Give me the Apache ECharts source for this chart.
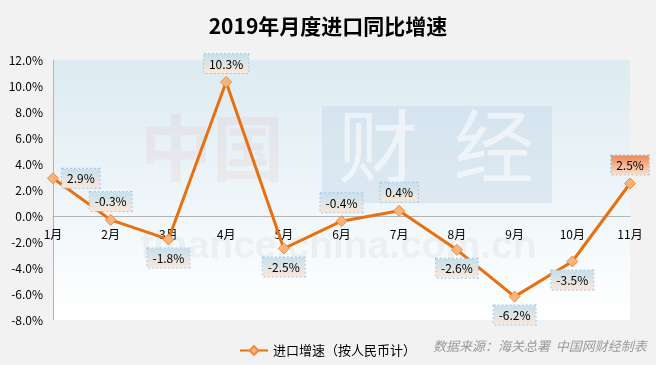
<!DOCTYPE html>
<html><head><meta charset="utf-8">
<script src="https://cdn.jsdelivr.net/npm/echarts@6/dist/echarts.min.js"></script>
<style>html,body{margin:0;padding:0;background:#f2f2f2;}#c{width:656px;height:365px;}</style>
</head><body><div id="c"></div>
<script>
var categories = ['1月','2月','3月','4月','5月','6月','7月','8月','9月','10月','11月'];
var values = [2.9, -0.3, -1.8, 10.3, -2.5, -0.4, 0.4, -2.6, -6.2, -3.5, 2.5];
var labelPos = ['right','top','bottom','top','bottom','top','top','bottom','bottom','bottom','top'];
var yTicks = {min: -8, max: 12, interval: 2};
var seriesName = '进口增速（按人民币计）';
var titleText = '2019年月度进口同比增速';
var sourceText = '数据来源：海关总署  中国网财经制表';

var FONT = '"Noto Sans CJK SC", "Noto Sans", sans-serif';
function grad(c1, c2){ return {type:'linear',x:0,y:0,x2:0,y2:1,colorStops:[{offset:0,color:c1},{offset:1,color:c2}]}; }
var normalBg = grad('#c2e1ee', '#fde7d8');
var lastBg = grad('#ea8550', '#fde3d0');

var data = values.map(function(v,i){
  return {value: v, label: {position: labelPos[i], backgroundColor: i === values.length-1 ? lastBg : normalBg}};
});

var chart = echarts.init(document.getElementById('c'));
chart.setOption({
  backgroundColor: '#f2f2f2',
  animation: false,
  title: {text: titleText, left: 'center', top: 11, textStyle: {fontFamily: FONT, fontSize: 21, fontWeight: 'bold', color: '#000'}},
  grid: {left: 53, right: 26, top: 60, bottom: 45, show: true, borderWidth: 0,
         backgroundColor: grad('#dcebf2', '#ffffff')},
  graphic: [
    {type:'rect', z: 1, shape:{x:322,y:106,width:230,height:97}, style:{fill:'rgba(190,210,228,0.35)'}},
    {type:'text', z: 1, left: 338, top: 106, style:{text:'财  经', fill:'rgba(255,255,255,0.55)', font:'80px "Noto Sans CJK SC"'}},
    {type:'text', z: 1, left: 140, top: 112, style:{text:'中国', fill:'rgba(215,140,140,0.10)', font:'bold 72px "Noto Sans CJK SC"'}},
    {type:'text', z: 1, left: 140, top: 228, style:{text:'finance.china.com.cn', fill:'rgba(0,0,0,0.04)', font:'bold 39px "Liberation Sans"'}},
    {type:'text', z: 3, left: 433, top: 340, style:{text: sourceText, fill:'#999', font:'italic 13px "Noto Sans CJK SC"'}}
  ],
  legend: {data: [seriesName], left: 234, top: 339, itemWidth: 28, itemHeight: 11, itemGap: 3,
           textStyle: {fontFamily: FONT, fontSize: 13, color: '#000'}},
  xAxis: {type: 'category', data: categories, boundaryGap: false,
          offset: -104,
          axisLine: {onZero: false, lineStyle: {color: '#b3b3b3', width: 1}},
          axisTick: {show: false},
          axisLabel: {margin: 12, color: '#000', fontFamily: FONT, fontSize: 12},
          splitLine: {show: false}},
  yAxis: {type: 'value', min: yTicks.min, max: yTicks.max, interval: yTicks.interval,
          axisLine: {show: true, onZero: false, lineStyle: {color: '#b3b3b3'}},
          axisTick: {show: false},
          splitLine: {show: false},
          axisLabel: {margin: 10, color: '#000', fontFamily: FONT, fontSize: 12,
                      formatter: function(v){ return v.toFixed(1) + '%'; }}},
  series: [{
    name: seriesName, type: 'line', data: data, z: 5,
    symbol: 'diamond', symbolSize: 11,
    lineStyle: {color: '#e8700f', width: 3},
    itemStyle: {color: '#f9b47c', borderColor: '#ee8a3e', borderWidth: 1},
    label: {show: true, distance: 3, color: '#000', fontFamily: FONT, fontSize: 12,
            padding: [4, 5, 3, 5], borderColor: '#a9c5e6', borderWidth: 1, borderType: 'dotted',
            formatter: function(p){ return p.value.toFixed(1) + '%'; }}
  }]
});
</script></body></html>
